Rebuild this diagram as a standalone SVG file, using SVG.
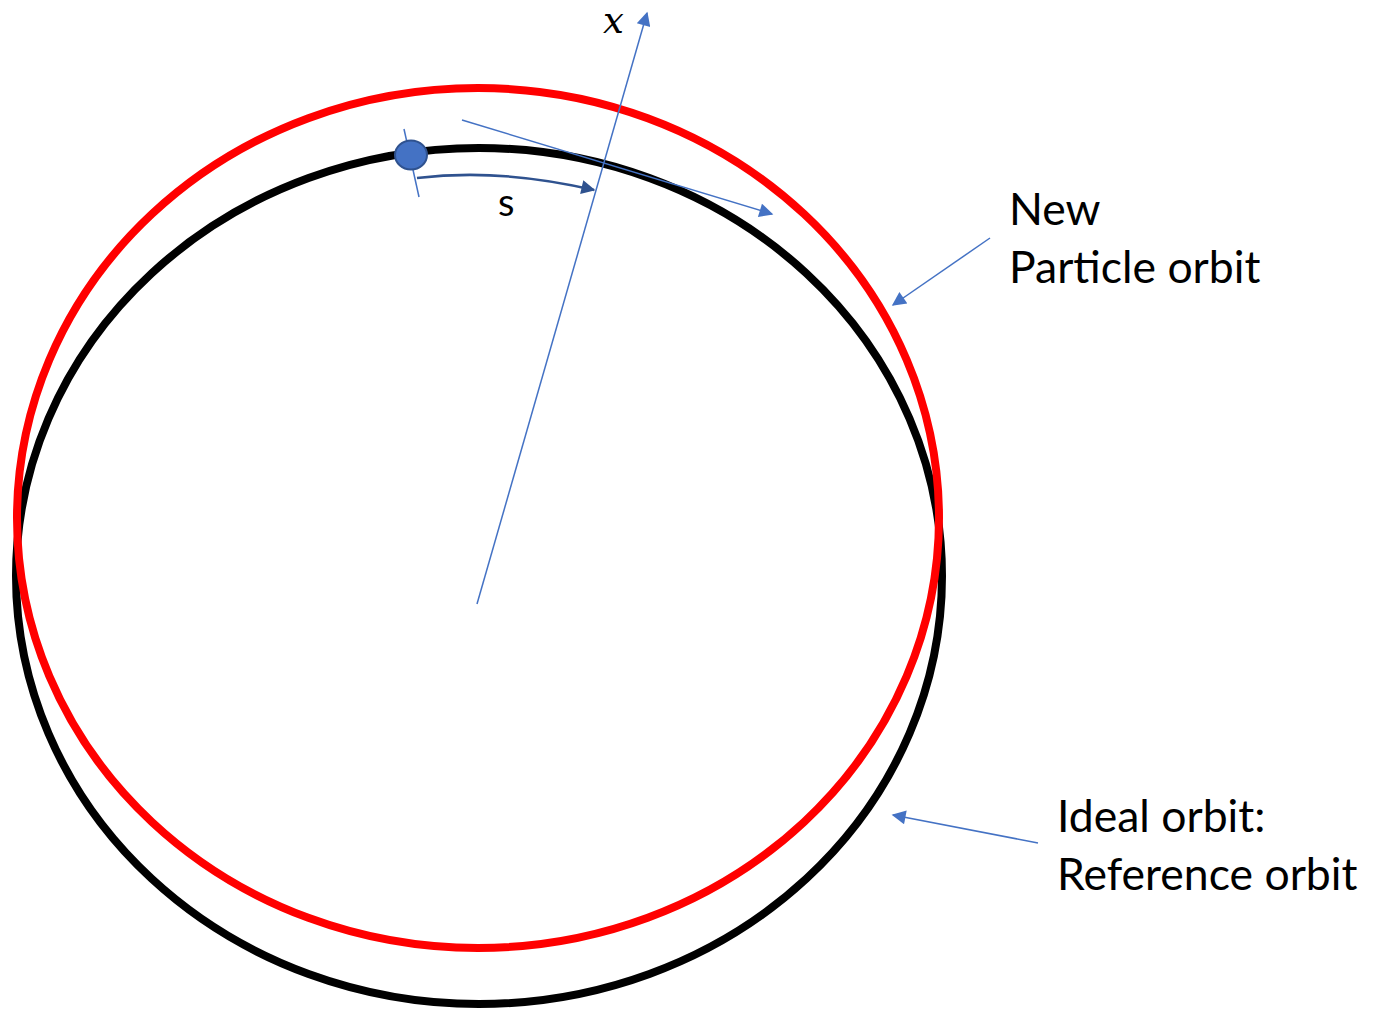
<svg xmlns="http://www.w3.org/2000/svg" width="1377" height="1013" viewBox="0 0 1377 1013">
<style>
.orbit{fill:none;stroke-width:8}
.thin{fill:none;stroke:#4472C4;stroke-width:1.5}
.lbl{font-family:Lato,"Liberation Sans",sans-serif;font-size:44.5px;fill:#000}
</style>
<defs>
<marker id="big" viewBox="0 0 10 10" refX="9" refY="5" markerWidth="17" markerHeight="14" markerUnits="userSpaceOnUse" orient="auto"><path d="M0,0L10,5L0,10z" fill="#4472C4"/></marker>
<marker id="big2" viewBox="0 0 10 10" refX="9" refY="5" markerWidth="17" markerHeight="14" markerUnits="userSpaceOnUse" orient="auto"><path d="M0,0L10,5L0,10z" fill="#2F528F"/></marker>
</defs>
<g id="reference-orbit"><ellipse class="orbit" cx="479" cy="576" rx="463" ry="428" stroke="#000"/></g>
<g id="particle-orbit"><ellipse class="orbit" cx="478" cy="518" rx="461" ry="430" stroke="#FF0000"/></g>
<g id="connectors">
<line class="thin" x1="477" y1="604" x2="647" y2="13" marker-end="url(#big)"/>
<line class="thin" x1="462" y1="120" x2="772" y2="214" marker-end="url(#big)"/>
<line class="thin" x1="404" y1="129" x2="419" y2="197"/>
<path d="M417,178 Q500,168 594,190" fill="none" stroke="#2F528F" stroke-width="2.5" marker-end="url(#big2)"/>
<line class="thin" x1="990" y1="238" x2="893" y2="305" marker-end="url(#big)"/>
<line class="thin" x1="1038" y1="843" x2="893" y2="815" marker-end="url(#big)"/>
</g>
<g id="particle"><ellipse cx="411" cy="155" rx="16" ry="14.5" fill="#4472C4" stroke="#2F528F" stroke-width="2"/></g>
<g id="labels">
<text x="498" y="216" class="lbl" style="font-size:38px">s</text>
<text x="603" y="33" font-family="'DejaVu Serif','Liberation Serif',serif" font-style="italic" font-size="37">x</text>
<text x="1009" y="225" class="lbl">New</text>
<text x="1009" y="283" class="lbl">Particle orbit</text>
<text x="1057" y="832" class="lbl">Ideal orbit:</text>
<text x="1057" y="890" class="lbl">Reference orbit</text>
</g>
</svg>
